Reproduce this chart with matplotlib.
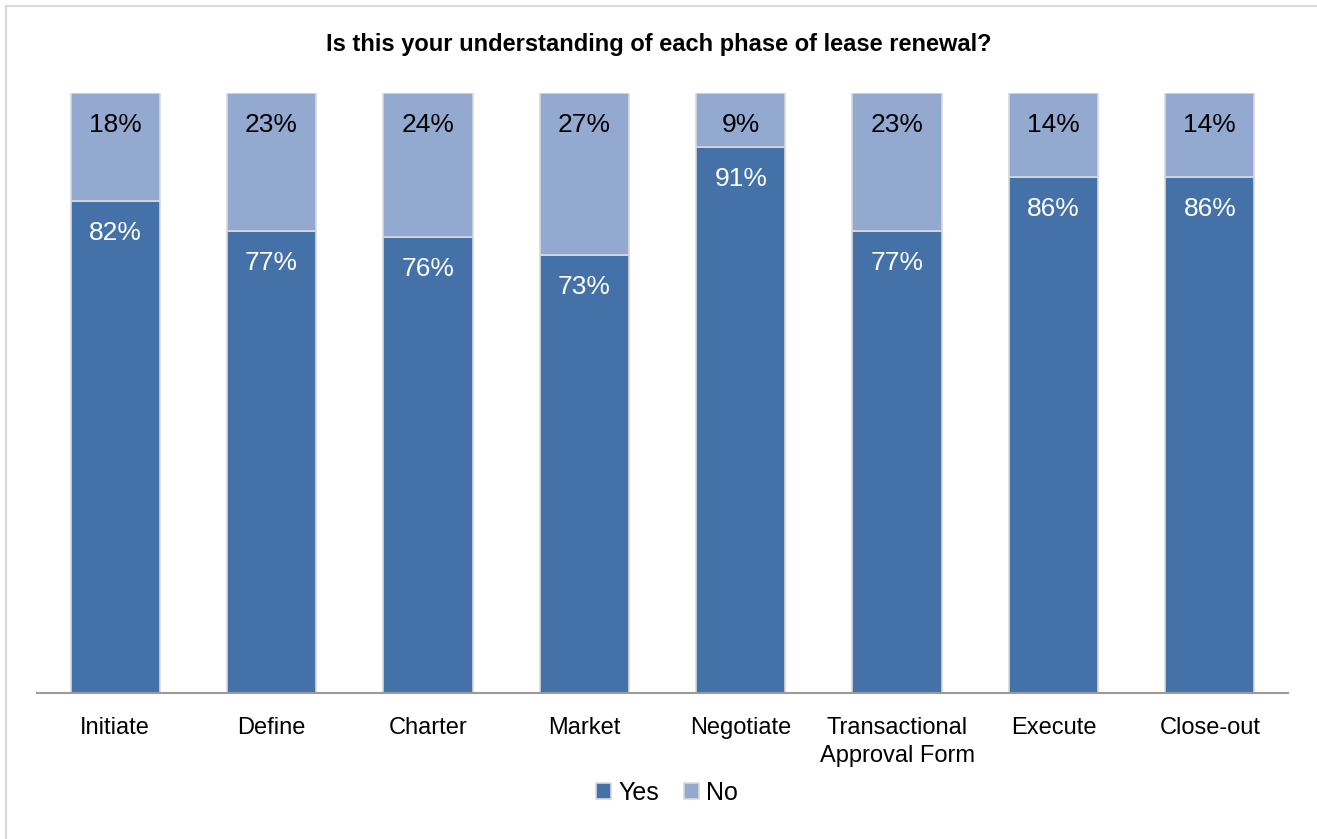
import matplotlib.pyplot as plt
import numpy as np
from matplotlib.lines import Line2D

phases = ['Initiate', 'Define', 'Charter', 'Market', 'Negotiate',
          'Transactional\nApproval Form', 'Execute', 'Close-out']
yes_pct = [82, 77, 76, 73, 91, 77, 86, 86]
no_pct = [18, 23, 24, 27, 9, 23, 14, 14]

yes_color = '#4472a8'
no_color = '#94a9d0'
edge_color = '#d9d9d9'

plt.rcParams['font.family'] = ['Liberation Sans', 'DejaVu Sans']

fig = plt.figure(figsize=(13.17, 8.39), dpi=100)
ax = fig.add_axes([37 / 1317, 146 / 839, 1251 / 1317, 600 / 839])

ind = np.arange(len(phases))
width = 0.57
bars_yes = ax.bar(ind, yes_pct, width, color=yes_color, edgecolor=edge_color,
                  linewidth=1.2, label='Yes')
bars_no = ax.bar(ind, no_pct, width, bottom=yes_pct, color=no_color,
                 edgecolor=edge_color, linewidth=1.2, label='No')


# value labels just inside the top of each segment
def autolabel(rects, bottoms, values, color):
    for rect, b, v in zip(rects, bottoms, values):
        x = rect.get_x() + rect.get_width() / 2.
        ax.annotate('%d%%' % v, xy=(x, b + v), xytext=(0, -20),
                    textcoords='offset pixels', ha='center', va='top',
                    fontsize=19, color=color)


autolabel(bars_yes, [0] * len(yes_pct), yes_pct, 'white')
autolabel(bars_no, yes_pct, no_pct, 'black')

ax.set_xlim(-0.5, len(phases) - 0.5)
ax.set_ylim(0, 100)
ax.set_yticks([])
ax.set_xticks(ind)
ax.set_xticklabels(phases, fontsize=17, linespacing=1.35)
ax.tick_params(axis='x', length=0, pad=17)
for side in ['top', 'right', 'left']:
    ax.spines[side].set_visible(False)
ax.spines['bottom'].set_color('#9a9a9a')
ax.spines['bottom'].set_linewidth(1.5)

fig.suptitle('Is this your understanding of each phase of lease renewal?',
             y=1 - 45 / 839, va='center', fontsize=17, fontweight='bold')

fig.legend(handles=[bars_yes, bars_no], labels=['Yes', 'No'], loc='center',
           bbox_to_anchor=(667 / 1317, 1 - 793 / 839), ncol=2, frameon=False,
           fontsize=18, handlelength=0.6, handleheight=0.6, handletextpad=0.3,
           columnspacing=1.0)

# thin frame around the chart area
fig.add_artist(Line2D([6 / 1317, 6 / 1317], [0, 1 - 6 / 839],
                      transform=fig.transFigure, color='#d9d9d9', lw=1.5))
fig.add_artist(Line2D([6 / 1317, 1], [1 - 6 / 839, 1 - 6 / 839],
                      transform=fig.transFigure, color='#d9d9d9', lw=1.5))

fig.savefig('out.png', dpi=100)
